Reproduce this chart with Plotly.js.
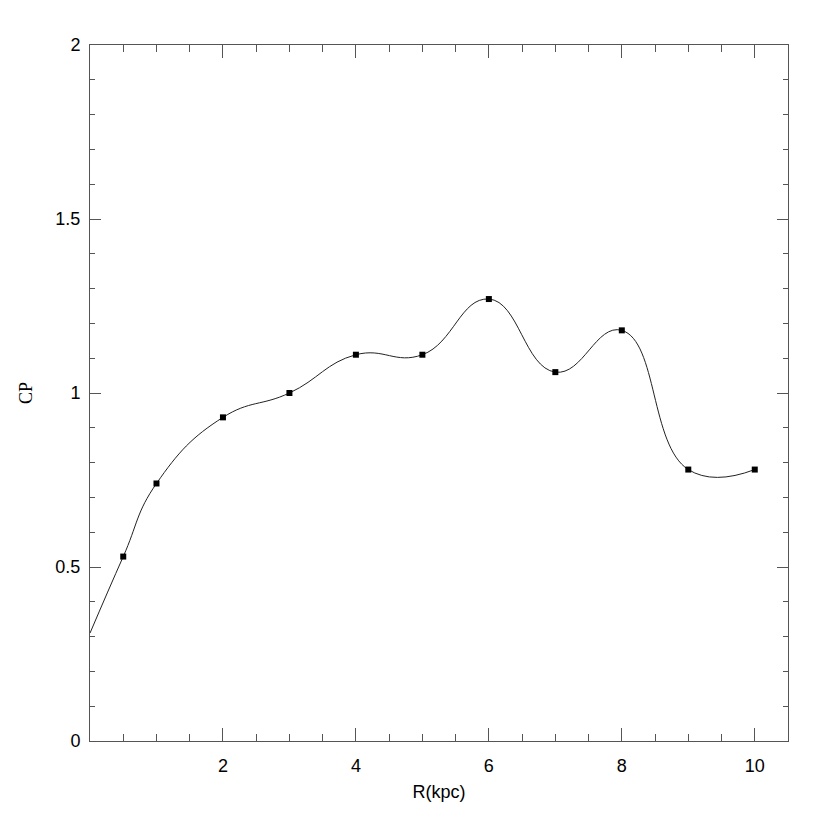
<!DOCTYPE html>
<html><head><meta charset="utf-8">
<script src="https://cdn.plot.ly/plotly-3.0.1.min.js"></script>
<style>body{margin:0;background:#fff}#plot{width:830px;height:830px}</style>
</head><body><div id="plot"></div>
<script>
// Data points (R in kpc, CP)
var pointR = [0.5, 1, 2, 3, 4, 5, 6, 7, 8, 9, 10];
var pointCP = [0.53, 0.74, 0.93, 1.0, 1.11, 1.11, 1.27, 1.06, 1.18, 0.78, 0.78];
// Curve nodes (curve starts at the left axis)
var curveR = [0, 0.5, 1, 2, 3, 4, 5, 6, 7, 8, 9, 10];
var curveCP = [0.31, 0.53, 0.74, 0.93, 1.0, 1.11, 1.11, 1.27, 1.06, 1.18, 0.78, 0.78];
var xTickVals = [2, 4, 6, 8, 10];
var xTickText = ['2', '4', '6', '8', '10'];
var yTickVals = [0, 0.5, 1, 1.5, 2];
var yTickText = ['0', '0.5', '1', '1.5', '2'];

var traces = [
  {x: curveR, y: curveCP, mode: 'lines', line: {shape: 'spline', smoothing: 1.3, color: '#222', width: 1}, hoverinfo: 'skip'},
  {x: pointR, y: pointCP, mode: 'markers', marker: {symbol: 'square', size: 6, color: '#000'}}
];
var axisCommon = {
  showline: true, linecolor: '#555', linewidth: 1, mirror: 'allticks',
  ticks: 'inside', tickcolor: '#555', tickwidth: 1, showgrid: false, zeroline: false,
  tickfont: {family: 'Liberation Sans, Arial, sans-serif', size: 18, color: '#000'}
};
var layout = {
  width: 830, height: 830, showlegend: false,
  paper_bgcolor: '#fff', plot_bgcolor: '#fff',
  margin: {l: 90, r: 42, t: 45, b: 89},
  xaxis: Object.assign({}, axisCommon, {
    range: [0, 10.5], tickmode: 'array', tickvals: xTickVals, ticktext: xTickText,
    ticklen: 13, ticklabelstandoff: 8,
    minor: {dtick: 0.5, ticks: 'inside', ticklen: 7, tickcolor: '#555', showgrid: false},
    title: {text: 'R(kpc)', font: {family: 'Liberation Sans, Arial, sans-serif', size: 18, color: '#000'}, standoff: 10}
  }),
  yaxis: Object.assign({}, axisCommon, {
    range: [0, 2], tickmode: 'array', tickvals: yTickVals, ticktext: yTickText,
    ticklen: 11, ticklabelstandoff: 5,
    minor: {dtick: 0.1, ticks: 'inside', ticklen: 5, tickcolor: '#555', showgrid: false},
    title: {text: 'CP', font: {family: 'Liberation Serif, Times New Roman, serif', size: 18, color: '#000'}, standoff: 18}
  })
};
Plotly.newPlot('plot', traces, layout, {staticPlot: true});
</script></body></html>
